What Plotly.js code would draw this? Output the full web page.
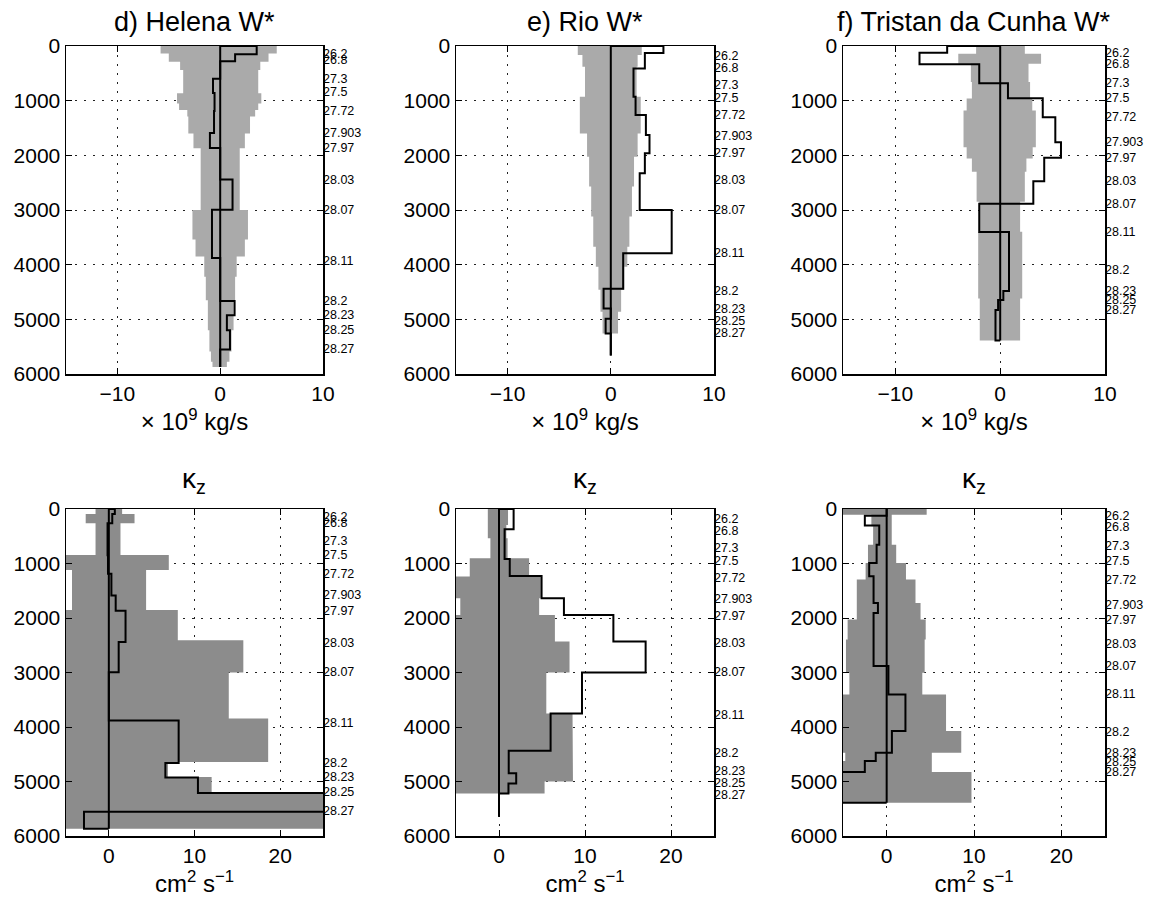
<!DOCTYPE html>
<html>
<head>
<meta charset="utf-8">
<script src="https://cdn.plot.ly/plotly-3.0.1.min.js"></script>
<style>html,body{margin:0;padding:0;background:#fff;}#chart{width:1151px;height:907px;}</style>
</head>
<body>
<div id="chart"></div>
<script>
// ---------- data ----------
const densityLabels = ['26.2','26.8','27.3','27.5','27.72','27.903','27.97','28.03','28.07','28.11','28.2','28.23','28.25','28.27'];
const helenaIsoDepth  = [140, 265, 595, 850, 1190, 1585, 1865, 2460, 2995, 3930, 4665, 4925, 5200, 5550];
const rioIsoDepth     = [190, 400, 710, 945, 1265, 1655, 1958, 2450, 2995, 3780, 4475, 4810, 5025, 5245];
const tristanIsoDepth = [122, 335, 680, 955, 1303, 1760, 2045, 2472, 2884, 3402, 4098, 4480, 4648, 4830];

const panelTitles = ['d) Helena W*', 'e) Rio W*', 'f) Tristan da Cunha W*'];
const wTicks = [-10, 0, 10];
const kTicks = [0, 10, 20];
const depthTicks = [0, 1000, 2000, 3000, 4000, 5000, 6000];

// Helena W* (10^9 kg/s)
const helenaWDepth = [0, 150, 280, 600, 860, 1190, 1590, 1865, 2440, 2995, 3880, 4665, 4925, 5200, 5550, 5870];
const helenaWValue = [3.55, 1.45, 0, -0.7, -0.55, -0.6, -1.0, 0, 1.2, -0.8, 0, 1.4, 0.65, 0.95, 0];
const helenaWBandDepth = [0, 135, 287, 440, 865, 1050, 1170, 1290, 1600, 1870, 2390, 3000, 3540, 3850, 4220, 4650, 5200, 5590, 5775, 5870];
const helenaWBandLow  = [-5.8, -5.0, -3.9, -3.6, -4.2, -4.0, -3.2, -3.1, -2.6, -1.9, -1.9, -2.7, -2.4, -1.55, -1.4, -1.2, -1.05, -0.9, -0.75];
const helenaWBandHigh = [5.5, 4.7, 3.9, 3.7, 4.0, 3.7, 3.4, 2.9, 2.4, 1.9, 1.9, 2.7, 2.4, 1.6, 1.45, 1.3, 1.1, 0.9, 0.65];

// Rio W*
const rioWDepth = [0, 130, 410, 930, 1260, 1630, 1960, 2330, 3000, 3790, 4440, 4800, 4990, 5260, 5660];
const rioWValue = [5.1, 3.3, 2.2, 2.4, 3.4, 3.75, 3.3, 2.8, 5.9, 1.2, -0.7, 0, -0.5, 0];
const rioWBandDepth = [0, 165, 380, 930, 1600, 2025, 2570, 3120, 3670, 4040, 4460, 4860, 5260];
const rioWBandLow  = [-3.2, -2.75, -2.5, -3.0, -2.3, -2.1, -1.9, -1.7, -1.45, -1.2, -1.0, -0.8];
const rioWBandHigh = [3.0, 2.6, 2.5, 2.9, 2.6, 2.25, 2.05, 1.8, 1.6, 1.3, 1.0, 0.7];

// Tristan da Cunha W*
const tristanWDepth = [0, 122, 335, 680, 955, 1303, 1760, 2045, 2472, 2884, 3402, 4098, 4480, 4648, 4830, 5385];
const tristanWValue = [-5.06, -7.7, -2.0, 0.74, 4.06, 5.26, 5.8, 4.2, 3.16, -2.0, 0.84, 0.84, 0.3, -0.2, -0.45];
const tristanWBandDepth = [0, 140, 323, 660, 960, 1180, 1850, 2060, 2300, 2850, 3400, 4620, 5385];
const tristanWBandLow  = [-2.3, -4.0, -2.8, -2.7, -3.2, -3.5, -3.2, -2.7, -2.25, -2.0, -2.1, -1.95];
const tristanWBandHigh = [2.35, 3.9, 2.7, 2.85, 3.06, 3.4, 3.1, 2.5, 2.35, 1.9, 2.1, 1.9];

// Helena kappa_z (cm^2 s^-1)
const helenaKDepth = [0, 90, 260, 850, 1190, 1585, 1865, 2440, 2995, 3880, 4660, 4925, 5210, 5555, 5866];
const helenaKValue = [0.7, 0.4, -0.15, -0.1, 0.3, 0.8, 1.95, 1.15, 0, 8.15, 6.6, 10.4, 40, -2.9];
const helenaKBandDepth = [0, 90, 263, 845, 1120, 1855, 2407, 3000, 3845, 4642, 4917, 5223, 5866];
const helenaKBandLow  = [-1.55, -2.7, -1.55, -8, -4.3, -8, -10, -10, -12, -6, -8, -14];
const helenaKBandHigh = [1.55, 3.0, 1.36, 7.0, 4.35, 8.05, 15.7, 14.0, 18.6, 6.9, 12.0, 30];

// Rio kappa_z
const rioKDepth = [0, 373, 917, 1229, 1638, 1944, 2433, 3000, 3750, 4435, 4850, 5035, 5220, 5645];
const rioKValue = [1.7, 0.65, 1.25, 4.95, 7.55, 13.3, 17.05, 9.65, 6.0, 1.13, 2.0, 1.1, 0];
const rioKBandDepth = [0, 293, 538, 905, 1240, 1638, 1944, 2433, 3000, 3750, 4790, 5000, 5220];
const rioKBandLow  = [-1.3, -1.3, -1.0, -3.4, -8, -4.5, -8, -9, -9, -9, -9, -8];
const rioKBandHigh = [1.05, 0.85, 1.0, 3.5, 4.85, 4.67, 6.5, 8.2, 5.5, 8.55, 8.6, 5.3];

// Tristan da Cunha kappa_z
const tristanKDepth = [0, 122, 305, 654, 990, 1234, 1723, 1906, 2883, 3403, 4075, 4472, 4624, 4826, 5388];
const tristanKValue = [0, -2.5, -0.85, -1.15, -2.0, -1.5, -1.0, -1.5, 0.2, 2.15, 0.6, -1.25, -2.5, -7];
const tristanKBandDepth = [0, 104, 318, 654, 990, 1295, 1723, 2028, 2395, 3005, 3403, 4075, 4472, 4624, 4826, 5388];
const tristanKBandLow  = [-8, -1.75, -1.55, -2.14, -2.41, -3.42, -3.42, -4.47, -4.66, -4.27, -8, -8, -4.74, -8, -8];
const tristanKBandHigh = [4.58, 0.58, 0.58, 1.09, 2.21, 3.3, 3.88, 4.47, 4.35, 4.08, 6.8, 8.54, 5.17, 5.17, 9.71];

// ---------- helpers ----------
function stairs(depths, vals) {
  const x = [0], y = [depths[0]];
  for (let i = 0; i < vals.length; i++) { x.push(vals[i], vals[i]); y.push(depths[i], depths[i + 1]); }
  x.push(0); y.push(depths[depths.length - 1]);
  return {x, y};
}
function band(depths, lo, hi) {
  const x = [], y = [];
  for (let i = 0; i < hi.length; i++) { x.push(hi[i], hi[i]); y.push(depths[i], depths[i + 1]); }
  for (let i = lo.length - 1; i >= 0; i--) { x.push(lo[i], lo[i]); y.push(depths[i + 1], depths[i]); }
  x.push(hi[0]); y.push(depths[0]);
  return {x, y};
}

const panels = [
  {d: helenaWDepth, v: helenaWValue, bd: helenaWBandDepth, lo: helenaWBandLow, hi: helenaWBandHigh, iso: helenaIsoDepth, row: 0, col: 0},
  {d: rioWDepth, v: rioWValue, bd: rioWBandDepth, lo: rioWBandLow, hi: rioWBandHigh, iso: rioIsoDepth, row: 0, col: 1},
  {d: tristanWDepth, v: tristanWValue, bd: tristanWBandDepth, lo: tristanWBandLow, hi: tristanWBandHigh, iso: tristanIsoDepth, row: 0, col: 2},
  {d: helenaKDepth, v: helenaKValue, bd: helenaKBandDepth, lo: helenaKBandLow, hi: helenaKBandHigh, iso: helenaIsoDepth, row: 1, col: 0},
  {d: rioKDepth, v: rioKValue, bd: rioKBandDepth, lo: rioKBandLow, hi: rioKBandHigh, iso: rioIsoDepth, row: 1, col: 1},
  {d: tristanKDepth, v: tristanKValue, bd: tristanKBandDepth, lo: tristanKBandLow, hi: tristanKBandHigh, iso: tristanIsoDepth, row: 1, col: 2}
];

const W = 1151, H = 907;
const colPx = [[66, 323], [456, 714], [843, 1105]];
const rowPx = [[46, 374], [509, 836]];
const FONT = 'Liberation Sans, Arial, Helvetica, sans-serif';

const traces = [];
const annotations = [];
const layout = {
  width: W, height: H,
  margin: {l: 0, r: 0, t: 0, b: 0},
  paper_bgcolor: '#ffffff', plot_bgcolor: '#ffffff',
  showlegend: false,
  font: {family: FONT, color: '#000', size: 21},
  annotations: annotations
};

panels.forEach((p, i) => {
  const n = i + 1;
  const xa = 'x' + (n === 1 ? '' : n), ya = 'y' + (n === 1 ? '' : n);
  const top = p.row === 0;
  const b = band(p.bd, p.lo, p.hi);
  traces.push({x: b.x, y: b.y, xaxis: xa, yaxis: ya, type: 'scatter', mode: 'lines',
    fill: 'toself', fillcolor: top ? '#aaaaaa' : '#8c8c8c', line: {width: 0}, hoverinfo: 'skip'});
  traces.push({x: [0, 0], y: [0, p.d[p.d.length - 1]], xaxis: xa, yaxis: ya, type: 'scatter', mode: 'lines',
    line: {color: '#000', width: 2}, hoverinfo: 'skip'});
  const s = stairs(p.d, p.v);
  traces.push({x: s.x, y: s.y, xaxis: xa, yaxis: ya, type: 'scatter', mode: 'lines',
    line: {color: '#000', width: 2}, hoverinfo: 'skip'});

  const cx = colPx[p.col], ry = rowPx[p.row];
  const common = {showline: true, linecolor: '#000', linewidth: 1.5, mirror: 'ticks', ticks: 'inside',
    ticklen: 6, tickcolor: '#000', showgrid: true, gridcolor: '#222', gridwidth: 1, griddash: '2px,7px',
    zeroline: false, automargin: false, tickfont: {family: FONT, size: 21, color: '#000'}};
  layout['xaxis' + (n === 1 ? '' : n)] = Object.assign({}, common, {
    domain: [cx[0] / W, cx[1] / W], anchor: ya,
    range: top ? [-15, 10] : [-5, 25], tickmode: 'array', tickvals: top ? wTicks : kTicks,
    title: {text: top ? '× 10<sup>9</sup> kg/s' : 'cm<sup>2</sup> s<sup>−1</sup>', font: {family: FONT, size: 24}, standoff: 9}
  });
  layout['yaxis' + (n === 1 ? '' : n)] = Object.assign({}, common, {
    domain: [1 - ry[1] / H, 1 - ry[0] / H], anchor: xa,
    range: [6000, 0], tickmode: 'array', tickvals: depthTicks
  });
  p.iso.forEach((dep, k) => {
    annotations.push({xref: xa + ' domain', yref: ya, x: 1, y: dep, xanchor: 'left', yanchor: 'middle',
      text: densityLabels[k], showarrow: false, xshift: -2, font: {family: FONT, size: 12.5, color: '#000'}});
  });
  if (top) {
    annotations.push({xref: 'paper', yref: 'paper', x: (cx[0] + cx[1]) / 2 / W, y: 1 - 22 / H, xanchor: 'center', yanchor: 'middle',
      text: panelTitles[p.col], showarrow: false, font: {family: FONT, size: 27, color: '#000'}});
  } else {
    annotations.push({xref: 'paper', yref: 'paper', x: (cx[0] + cx[1]) / 2 / W, y: 1 - 480 / H, xanchor: 'center', yanchor: 'middle',
      text: 'κ<sub>z</sub>', showarrow: false, font: {family: FONT, size: 28, color: '#000'}});
  }
});

Plotly.newPlot('chart', traces, layout, {staticPlot: true, displayModeBar: false});
</script>
</body>
</html>
